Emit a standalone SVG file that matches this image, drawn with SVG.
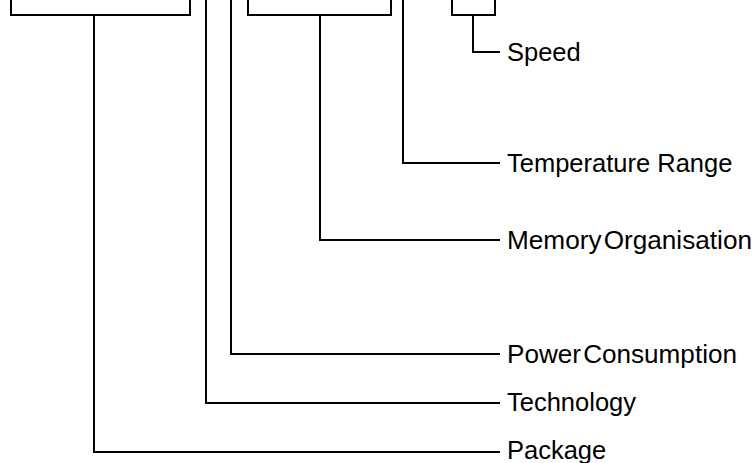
<svg xmlns="http://www.w3.org/2000/svg" width="755" height="463" viewBox="0 0 755 463">
<style>
.b{fill:#fff;stroke:#000;stroke-width:2}
.c{fill:none;stroke:#000;stroke-width:2}
.t{font-family:"Liberation Sans",Arial,sans-serif;font-size:25.5px;fill:#000}
</style>
<rect width="755" height="463" fill="#fff"/>
<g id="box1"><rect class="b" x="11" y="-10" width="179" height="25"/></g>
<g id="box2"><rect class="b" x="248" y="-10" width="143" height="25"/></g>
<g id="box3"><rect class="b" x="452" y="-10" width="43" height="25"/></g>
<g id="connectors">
<polyline class="c" points="473,15 473,52 500,52"/>
<polyline class="c" points="403,0 403,163 500,163"/>
<polyline class="c" points="320,15 320,240 500,240"/>
<polyline class="c" points="231,0 231,354 500,354"/>
<polyline class="c" points="206,0 206,403 500,403"/>
<polyline class="c" points="94,15 94,452 500,452"/>
</g>
<g id="speed"><text class="t" x="507" y="61">Speed</text></g>
<g id="temp"><text class="t" x="507" y="172">Temperature Range</text></g>
<g id="memory"><text class="t" x="507" y="249" word-spacing="-5" textLength="245" lengthAdjust="spacingAndGlyphs">Memory Organisation</text></g>
<g id="power"><text class="t" x="507" y="363" word-spacing="-5" textLength="230" lengthAdjust="spacingAndGlyphs">Power Consumption</text></g>
<g id="technology"><text class="t" x="507" y="411">Technology</text></g>
<g id="package"><text class="t" x="507" y="459">Package</text></g>
</svg>
